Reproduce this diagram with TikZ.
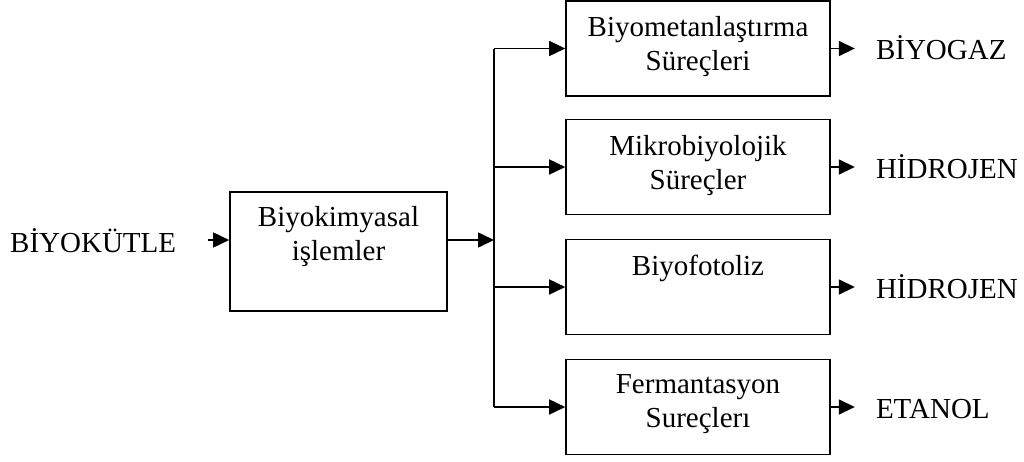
\documentclass[tikz,border=0pt]{standalone}
\usepackage{fontspec}
\setmainfont{Liberation Serif}
\usetikzlibrary{arrows.meta, positioning}

\begin{document}
\begin{tikzpicture}[
    x=1pt, y=-1pt,
    box/.style={draw, line width=1.6pt, inner sep=0pt},
    procbox/.style={box, minimum width=264pt, minimum height=95pt},
    boxtext/.style={inner sep=0pt, align=center, font=\fontsize{29}{34}\selectfont},
    plaintext/.style={inner sep=0pt, font=\fontsize{29}{34}\selectfont},
    arrow/.style={-{Triangle[length=16pt, width=15pt]}, line width=1.6pt}
]
\useasboundingbox (0,0) rectangle (1024,461);

\node[box, minimum width=217pt, minimum height=119pt] (bk) at (338.5,251.5) {};
\node[boxtext, below=15pt of bk.north] (bkt) {Biyokimyasal\\işlemler};

\node[procbox] (p1) at (698,48.5) {};
\node[procbox] (p2) at (698,167)  {};
\node[procbox] (p3) at (698,287)  {};
\node[procbox] (p4) at (698,407)  {};

\node[boxtext, below=16pt of p1.north] (p1t) {Biyometanlaştırma\\Süreçleri};
\node[boxtext, below=16pt of p2.north] (p2t) {Mikrobiyolojik\\Süreçler};
\node[boxtext, below=16pt of p3.north] (p3t) {Biyofotoliz};
\node[boxtext, below=16pt of p4.north] (p4t) {Fermantasyon\\Sureçlerı};

\node[plaintext, anchor=base west] (src) at (10,252) {BİYOKÜTLE};
\node[plaintext, anchor=base west] (o1) at ([xshift=45pt, yshift=-11pt]p1.east) {BİYOGAZ};
\node[plaintext, anchor=base west] (o2) at ([xshift=45pt, yshift=-11pt]p2.east) {HİDROJEN};
\node[plaintext, anchor=base west] (o3) at ([xshift=45pt, yshift=-11pt]p3.east) {HİDROJEN};
\node[plaintext, anchor=base west] (o4) at ([xshift=45pt, yshift=-11pt]p4.east) {ETANOL};

\coordinate (split) at (494,240);

\draw[arrow] ([xshift=32pt]src.east |- split) -- (bk.west |- split);
\draw[arrow] (bk.east |- split) -- (split);
\draw[line width=1.6pt] (split |- p1) -- (split |- p4);
\foreach \i in {1,...,4}
    \draw[arrow] (split |- p\i) -- (p\i.west);
\foreach \i in {1,...,4}
    \draw[arrow] (p\i.east) -- ([xshift=-21pt]o\i.west |- p\i.east);
\end{tikzpicture}
\end{document}
